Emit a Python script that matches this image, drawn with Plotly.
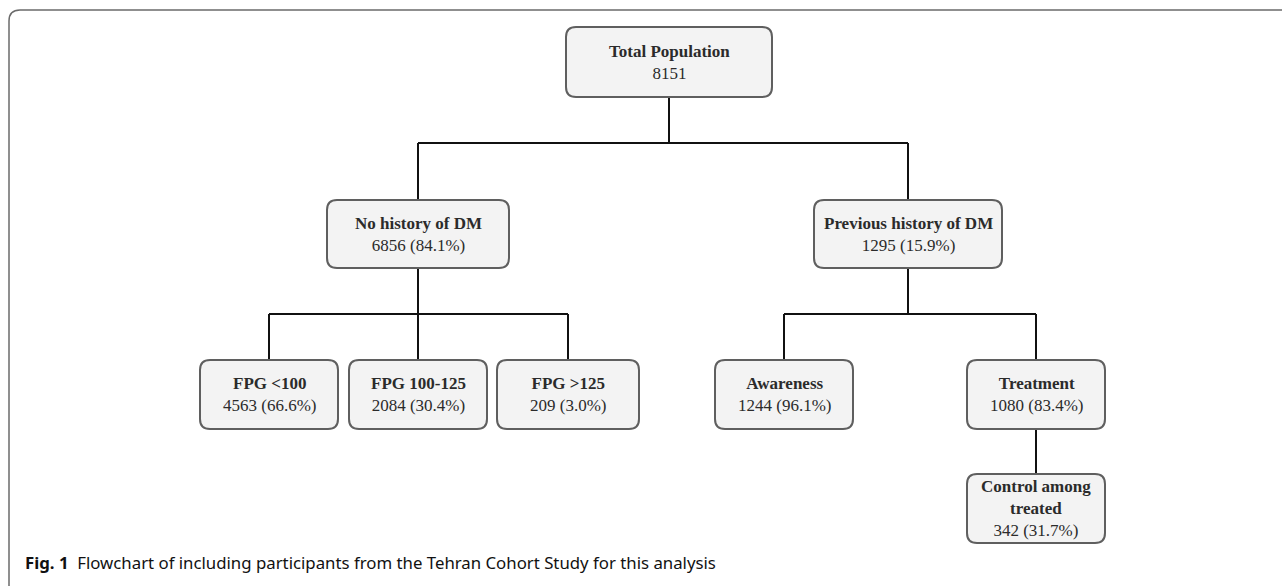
import plotly.graph_objects as go

# ---- data ----
titles = ["Total Population", "No history of DM", "Previous history of DM",
          "FPG <100", "FPG 100-125", "FPG >125",
          "Awareness", "Treatment", "Control among<br>treated"]
counts = [8151, 6856, 1295, 4563, 2084, 209, 1244, 1080, 342]
percents = [None, 84.1, 15.9, 66.6, 30.4, 3.0, 96.1, 83.4, 31.7]
parents = [None, 0, 0, 1, 1, 1, 2, 2, 7]
caption_bold = "Fig. 1"
caption_text = "Flowchart of including participants from the Tehran Cohort Study for this analysis"

# ---- layout of nodes (pixel coordinates: x center, top, bottom, half width) ----
cx = [669, 418, 908, 269, 418, 568, 784, 1036, 1036]
top = [27, 200, 200, 360, 360, 360, 360, 360, 474]
bot = [97, 268, 268, 429, 429, 429, 429, 429, 543]
hw = [103, 91, 94, 69, 69, 71, 69, 69, 69]
bus_y = {0: 143, 1: 314, 2: 314, 7: None}

W, H = 1282, 586
fig = go.Figure()
shapes = []
annotations = []

def rrect(x0, y0, x1, y1, r):
    return (f"M {x0+r},{y0} L {x1-r},{y0} Q {x1},{y0} {x1},{y0+r} "
            f"L {x1},{y1-r} Q {x1},{y1} {x1-r},{y1} L {x0+r},{y1} "
            f"Q {x0},{y1} {x0},{y1-r} L {x0},{y0+r} Q {x0},{y0} {x0+r},{y0} Z")

# outer frame
shapes.append(dict(type="path", xref="x", yref="y",
                   path="M 9,586 L 9,21 Q 9,10 20,10 L 1282,10",
                   line=dict(color="#6b6b6b", width=1.5)))

LC = "#111111"
LW = 2
# connectors
children = {}
for i, p in enumerate(parents):
    if p is not None:
        children.setdefault(p, []).append(i)
for p, ch in children.items():
    by = bus_y.get(p)
    if by is None or len(ch) == 1:
        c = ch[0]
        shapes.append(dict(type="line", x0=cx[p], x1=cx[c], y0=bot[p], y1=top[c],
                           line=dict(color=LC, width=LW)))
        continue
    shapes.append(dict(type="line", x0=cx[p], x1=cx[p], y0=bot[p], y1=by,
                       line=dict(color=LC, width=LW)))
    xs = [cx[c] for c in ch]
    shapes.append(dict(type="line", x0=min(xs), x1=max(xs), y0=by, y1=by,
                       line=dict(color=LC, width=LW)))
    for c in ch:
        shapes.append(dict(type="line", x0=cx[c], x1=cx[c], y0=by, y1=top[c],
                           line=dict(color=LC, width=LW)))

# boxes
for i in range(len(titles)):
    shapes.append(dict(type="path", path=rrect(cx[i]-hw[i], top[i], cx[i]+hw[i], bot[i], 10),
                       fillcolor="#f3f3f3", line=dict(color="#5f5f5f", width=2)))
    second = f"{counts[i]}" if percents[i] is None else f"{counts[i]} ({percents[i]:.1f}%)"
    annotations.append(dict(x=cx[i], y=(top[i]+bot[i])/2, xref="x", yref="y",
                            text=f"<b>{titles[i]}</b><br>{second}", showarrow=False,
                            font=dict(family="Liberation Serif", size=17, color="#2b2b2b"),
                            align="center", xanchor="center", yanchor="middle"))

annotations.append(dict(x=23, y=562, xref="x", yref="y", xanchor="left", yanchor="middle",
                        showarrow=False, align="left",
                        text=f"<b>{caption_bold}</b>  {caption_text}",
                        font=dict(family="Noto Sans", size=16.8, color="#111111")))

fig.update_layout(width=W, height=H, margin=dict(l=0, r=0, t=0, b=0),
                  paper_bgcolor="white", plot_bgcolor="white",
                  shapes=shapes, annotations=annotations, showlegend=False,
                  xaxis=dict(range=[0, W], visible=False, fixedrange=True),
                  yaxis=dict(range=[H, 0], visible=False, fixedrange=True))
fig.write_html("out.html", config={"displayModeBar": False},
               post_script="document.body.style.margin='0';document.body.style.overflow='hidden';")
